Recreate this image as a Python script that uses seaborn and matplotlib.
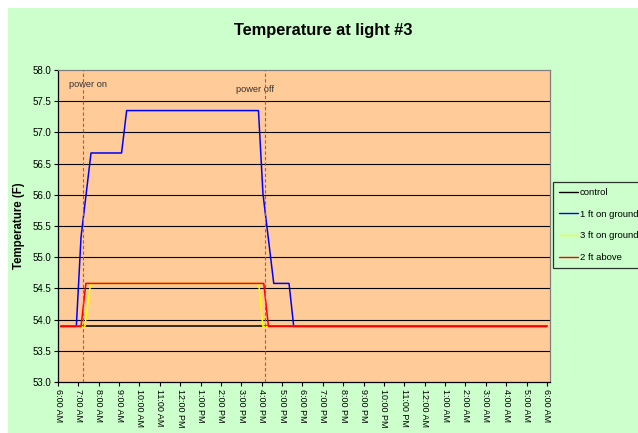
import matplotlib
matplotlib.use("Agg")
import matplotlib.pyplot as plt
import seaborn as sns
import pandas as pd

# ---- data (hours after 6:00 AM) ----
control_t = [0.13, 24.0]
control_v = [53.89, 53.89]
ground1_t = [0.13, 0.90, 1.13, 1.62, 3.12, 3.37, 9.84, 10.06, 10.59, 11.34, 11.57, 24.0]
ground1_v = [53.89, 53.89, 55.32, 56.67, 56.67, 57.35, 57.35, 56.02, 54.58, 54.58, 53.89, 53.89]
ground3_t = [0.13, 1.32, 1.60, 9.85, 10.06, 24.0]
ground3_v = [53.89, 53.89, 54.58, 54.58, 53.89, 53.89]
above2_t = [0.13, 1.13, 1.37, 10.10, 10.33, 24.0]
above2_v = [53.89, 53.89, 54.58, 54.58, 53.89, 53.89]
series_names = ["control", "1 ft on ground", "3 ft on ground", "2 ft above"]
series_colors = ["#000000", "#0000FF", "#FFFF00", "#FF0000"]
power_on_t = 1.24
power_off_t = 10.18
x_tick_labels = ["6:00 AM", "7:00 AM", "8:00 AM", "9:00 AM", "10:00 AM", "11:00 AM",
                 "12:00 PM", "1:00 PM", "2:00 PM", "3:00 PM", "4:00 PM", "5:00 PM",
                 "6:00 PM", "7:00 PM", "8:00 PM", "9:00 PM", "10:00 PM", "11:00 PM",
                 "12:00 AM", "1:00 AM", "2:00 AM", "3:00 AM", "4:00 AM", "5:00 AM", "6:00 AM"]
y_ticks = [53.0, 53.5, 54.0, 54.5, 55.0, 55.5, 56.0, 56.5, 57.0, 57.5, 58.0]

frames = []
for name, t, v in [(series_names[0], control_t, control_v),
                   (series_names[1], ground1_t, ground1_v),
                   (series_names[2], ground3_t, ground3_v),
                   (series_names[3], above2_t, above2_v)]:
    frames.append(pd.DataFrame({"time": t, "temp": v, "series": name}))
df = pd.concat(frames, ignore_index=True)

sns.set_theme(style="white")
plt.rcParams["font.family"] = ["Liberation Sans", "DejaVu Sans"]
plt.rcParams["text.color"] = "black"
plt.rcParams["axes.labelcolor"] = "black"
plt.rcParams["xtick.color"] = "black"
plt.rcParams["ytick.color"] = "black"

GREEN = "#CCFFCC"
fig = plt.figure(figsize=(6.38, 4.33), dpi=100, facecolor="white")
# green chart area with white margin on left/top
fig.patches.append(plt.Rectangle((8 / 638, -0.01), 1, 1.01 - 8 / 433, transform=fig.transFigure,
                                 facecolor=GREEN, edgecolor="none", zorder=-10))
ax = fig.add_axes([58 / 638, 1 - 382 / 433, (550 - 58) / 638, (382 - 70) / 433])
ax.set_facecolor("#FFCC99")

for y in y_ticks[1:-1]:
    ax.axhline(y, color="black", lw=0.8, zorder=1)

sns.lineplot(data=df, x="time", y="temp", hue="series", hue_order=series_names,
             palette=series_colors, estimator=None, sort=False, units="series",
             linewidth=1.1, ax=ax, zorder=3)

ax.axvline(power_on_t, color="#FF3333", lw=0.8, ls=(0, (3, 2)), zorder=4)
ax.axvline(power_off_t, color="#FF3333", lw=0.8, ls=(0, (3, 2)), zorder=4)
ax.text(0.52, 57.77, "power on", fontsize=6.7, color="#333333", va="center", ha="left")
ax.text(8.73, 57.69, "power off", fontsize=6.7, color="#333333", va="center", ha="left")

ax.set_xlim(0, 24.15)
ax.set_ylim(53.0, 58.0)
ax.set_xticks(range(len(x_tick_labels)))
ax.set_xticklabels(x_tick_labels, rotation=270, fontsize=6.5, va="top", ha="center")
ax.set_yticks(y_ticks)
ax.set_yticklabels([f"{y:.1f}" for y in y_ticks], fontsize=7)
ax.tick_params(axis="both", which="major", direction="out", length=3, width=0.8,
               color="black", pad=2, bottom=True, left=True)
ax.set_xlabel("")
ax.set_ylabel("Temperature (F)", fontsize=8.3, fontweight="bold", labelpad=5)

for s in ["left", "bottom"]:
    ax.spines[s].set_color("black")
    ax.spines[s].set_linewidth(0.9)
for s in ["top", "right"]:
    ax.spines[s].set_color("#808080")
    ax.spines[s].set_linewidth(0.9)

fig.text(323 / 638, 1 - 30 / 433, "Temperature at light #3", fontsize=11.8,
         fontweight="bold", ha="center", va="center", color="black")

handles, labels = ax.get_legend_handles_labels()
ax.legend_.remove()
leg = fig.legend(handles, labels, loc="upper left",
                 bbox_to_anchor=(553 / 638, 1 - 182 / 433), fontsize=6.8,
                 frameon=True, facecolor=GREEN, edgecolor="black", fancybox=False,
                 handlelength=2.0, handletextpad=0.2, labelspacing=1.33,
                 borderpad=0.65, borderaxespad=0)
leg.get_frame().set_linewidth(0.9)
for line in leg.get_lines():
    line.set_linewidth(1.0)
for txt in leg.get_texts():
    txt.set_color("black")

fig.savefig("out.png", dpi=100, facecolor="white")
